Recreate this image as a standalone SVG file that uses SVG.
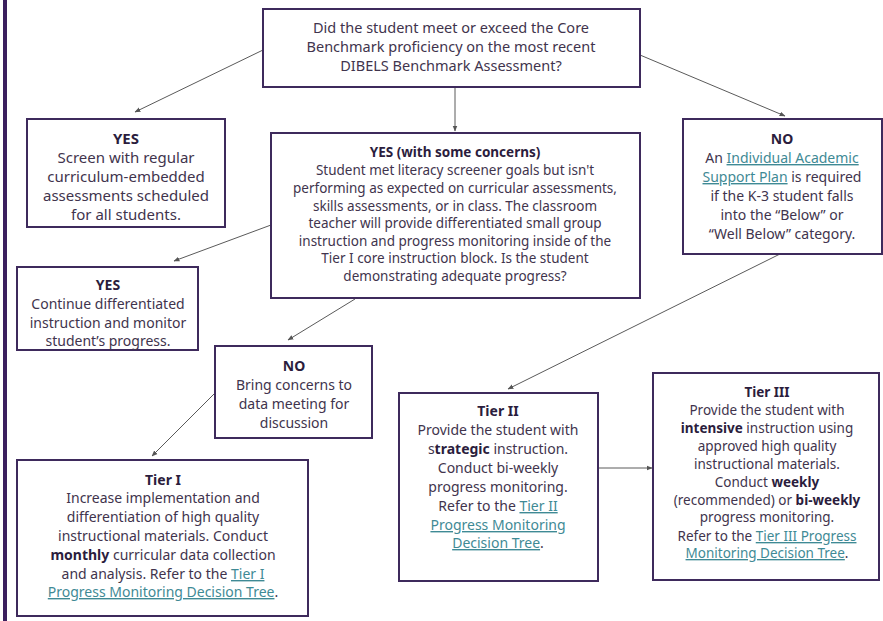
<svg xmlns="http://www.w3.org/2000/svg" width="883" height="621" viewBox="0 0 883 621">
<defs>
<marker id="ah" viewBox="0 0 10 10" refX="9" refY="5" markerWidth="6" markerHeight="6" orient="auto-start-reverse">
<path d="M0,1 L10,5 L0,9 z" fill="#555"/>
</marker>
<style>
.box{fill:#fff;stroke:#3e2a5c;stroke-width:2}
text{font-family:"Noto Sans","Open Sans",sans-serif;fill:#41344d;text-anchor:middle}
.h{font-weight:bold;fill:#2b1d3d}
.b{font-weight:bold;fill:#2b1d3d}
.l{fill:#3f8a95;text-decoration:underline}
.c{stroke:#5a5a5a;stroke-width:1;fill:none;marker-end:url(#ah)}
</style>
</defs>
<rect x="0" y="0" width="883" height="621" fill="#fff"/>
<rect x="3" y="0" width="4" height="621" fill="#3b1f5e"/>

<g id="connectors">
<line class="c" x1="263" y1="50" x2="135" y2="112"/>
<line class="c" x1="455" y1="87" x2="455" y2="131"/>
<line class="c" x1="640" y1="55" x2="785" y2="116"/>
<line class="c" x1="271" y1="225" x2="174" y2="261"/>
<line class="c" x1="355" y1="299" x2="288" y2="340"/>
<line class="c" x1="215" y1="393" x2="152" y2="456"/>
<line class="c" x1="780" y1="254" x2="508" y2="389"/>
<line class="c" x1="598" y1="468" x2="652" y2="468"/>
</g>

<g id="q">
<rect class="box" x="263" y="9" width="377" height="78"/>
<text font-size="14.5"><tspan x="451" y="33">Did the student meet or exceed the Core</tspan><tspan x="451" y="52">Benchmark proficiency on the most recent</tspan><tspan x="451" y="71">DIBELS Benchmark Assessment?</tspan></text>
</g>

<g id="yes1">
<rect class="box" x="27" y="119" width="198" height="108"/>
<text font-size="15"><tspan class="h" x="126" y="144">YES</tspan><tspan x="126" y="163">Screen with regular</tspan><tspan x="126" y="182">curriculum-embedded</tspan><tspan x="126" y="201">assessments scheduled</tspan><tspan x="126" y="220">for all students.</tspan></text>
</g>

<g id="concerns">
<rect class="box" x="271" y="133" width="369" height="165"/>
<text font-size="13.5"><tspan class="h" x="455" y="157">YES (with some concerns)</tspan><tspan x="455" y="175">Student met literacy screener goals but isn't</tspan><tspan x="455" y="193">performing as expected on curricular assessments,</tspan><tspan x="455" y="211">skills assessments, or in class. The classroom</tspan><tspan x="455" y="228">teacher will provide differentiated small group</tspan><tspan x="455" y="246">instruction and progress monitoring inside of the</tspan><tspan x="455" y="263">Tier I core instruction block. Is the student</tspan><tspan x="455" y="281">demonstrating adequate progress?</tspan></text>
</g>

<g id="no1">
<rect class="box" x="683" y="119" width="199" height="135"/>
<text font-size="14"><tspan class="h" x="782" y="144">NO</tspan></text>
<text font-size="14" x="782" y="163"><tspan>An </tspan><tspan class="l">Individual Academic</tspan></text>
<text font-size="14" x="782" y="182"><tspan class="l">Support Plan</tspan><tspan> is required</tspan></text>
<text font-size="14"><tspan x="782" y="201">if the K-3 student falls</tspan><tspan x="782" y="220">into the “Below” or</tspan><tspan x="782" y="239">“Well Below” category.</tspan></text>
</g>

<g id="yes2">
<rect class="box" x="17" y="267" width="181" height="83"/>
<text font-size="14"><tspan class="h" x="108" y="290">YES</tspan><tspan x="108" y="309">Continue differentiated</tspan><tspan x="108" y="328">instruction and monitor</tspan><tspan x="108" y="346">student’s progress.</tspan></text>
</g>

<g id="no2">
<rect class="box" x="215" y="346" width="157" height="92"/>
<text font-size="14"><tspan class="h" x="294" y="371">NO</tspan><tspan x="294" y="390">Bring concerns to</tspan><tspan x="294" y="409">data meeting for</tspan><tspan x="294" y="428">discussion</tspan></text>
</g>

<g id="tier1">
<rect class="box" x="17" y="460" width="291" height="156"/>
<text font-size="14"><tspan class="h" x="163" y="485">Tier I</tspan><tspan x="163" y="503">Increase implementation and</tspan><tspan x="163" y="522">differentiation of high quality</tspan><tspan x="163" y="541">instructional materials. Conduct</tspan></text>
<text font-size="14" x="163" y="560"><tspan class="b">monthly</tspan><tspan> curricular data collection</tspan></text>
<text font-size="14" x="163" y="579"><tspan>and analysis. Refer to the </tspan><tspan class="l">Tier I</tspan></text>
<text font-size="14" x="163" y="597"><tspan class="l">Progress Monitoring Decision Tree</tspan><tspan>.</tspan></text>
</g>

<g id="tier2">
<rect class="box" x="399" y="393" width="199" height="188"/>
<text font-size="14"><tspan class="h" x="498" y="416">Tier II</tspan><tspan x="498" y="435">Provide the student with</tspan></text>
<text font-size="14" x="498" y="454"><tspan>s</tspan><tspan class="b">trategic</tspan><tspan> instruction.</tspan></text>
<text font-size="14"><tspan x="498" y="473">Conduct bi-weekly</tspan><tspan x="498" y="492">progress monitoring.</tspan></text>
<text font-size="14" x="498" y="511"><tspan>Refer to the </tspan><tspan class="l">Tier II</tspan></text>
<text font-size="14"><tspan class="l" x="498" y="530">Progress Monitoring</tspan></text>
<text font-size="14" x="498" y="548"><tspan class="l">Decision Tree</tspan><tspan>.</tspan></text>
</g>

<g id="tier3">
<rect class="box" x="653" y="373" width="226" height="207"/>
<text font-size="13.5"><tspan class="h" x="767" y="397">Tier III</tspan><tspan x="767" y="415">Provide the student with</tspan></text>
<text font-size="13.5" x="767" y="433"><tspan class="b">intensive</tspan><tspan> instruction using</tspan></text>
<text font-size="13.5"><tspan x="767" y="451">approved high quality</tspan><tspan x="767" y="469">instructional materials.</tspan></text>
<text font-size="13.5" x="767" y="487"><tspan>Conduct </tspan><tspan class="b">weekly</tspan></text>
<text font-size="13.5" x="767" y="505"><tspan>(recommended) or </tspan><tspan class="b">bi-weekly</tspan></text>
<text font-size="13.5"><tspan x="767" y="522">progress monitoring.</tspan></text>
<text font-size="13.5" x="767" y="541"><tspan>Refer to the </tspan><tspan class="l">Tier III Progress</tspan></text>
<text font-size="13.5" x="767" y="558"><tspan class="l">Monitoring Decision Tree</tspan><tspan>.</tspan></text>
</g>
</svg>
